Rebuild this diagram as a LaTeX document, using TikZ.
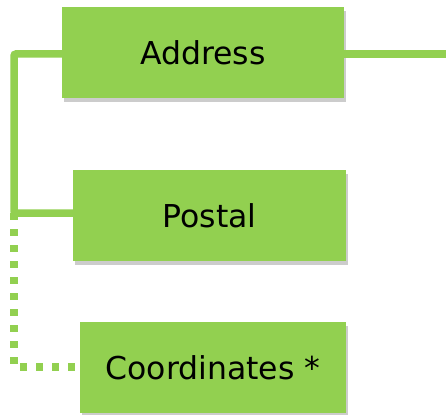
\documentclass[tikz,border=0pt]{standalone}
\usepackage{fontspec}
\setmainfont{DejaVu Sans}
\usetikzlibrary{shadows}
\definecolor{lgreen}{HTML}{92D050}
\begin{document}
\begin{tikzpicture}[x=1pt,y=-1pt,
  box/.style={draw=none, fill=lgreen, minimum width=#1, minimum height=91pt, inner sep=0pt,
    font=\fontsize{31.5}{38}\selectfont, text=black,
    drop shadow={shadow xshift=2pt, shadow yshift=-4pt, opacity=0.2, fill=black}},
  conn/.style={draw=lgreen, line width=7.5pt},
  dotconn/.style={draw=lgreen, line width=7.5pt, dash pattern=on 7pt off 9pt}]
\useasboundingbox (0,0) rectangle (446,414);
\node[box=282pt] (address) at (203,53) {Address};
\node[box=273pt] (postal) at (209.5,215.5) {Postal};
\node[box=266pt] (coord) at (213,367.5) {Coordinates *};
\coordinate (top) at (14,54);
\coordinate (mid) at (14,213);
\coordinate (bot) at (14,367);
\coordinate (rightend) at (446,54);
\draw[conn] (address.east |- rightend) -- (rightend);
\draw[conn, rounded corners=2pt] (address.west |- top) -- (top) -- (mid) -- (postal.west |- mid);
\draw[dotconn] (mid) -- (bot) -- (coord.west |- bot);
\end{tikzpicture}
\end{document}
